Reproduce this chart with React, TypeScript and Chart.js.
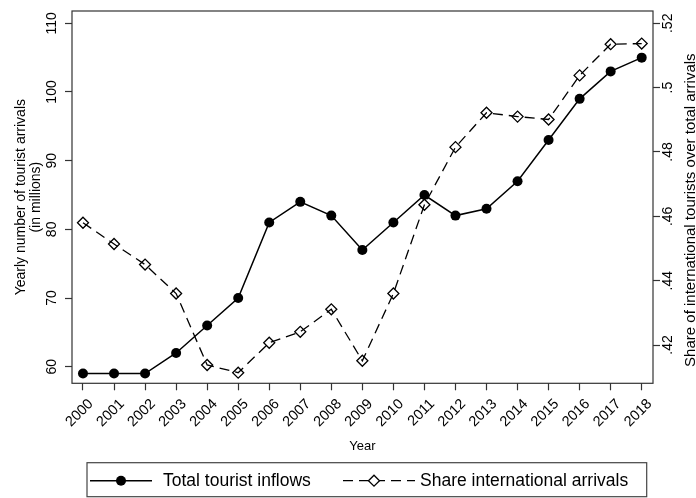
import React, { useEffect, useRef } from 'react';
import { Chart, registerables } from 'chart.js';

Chart.register(...registerables);

const years = [2000, 2001, 2002, 2003, 2004, 2005, 2006, 2007, 2008, 2009, 2010, 2011, 2012, 2013, 2014, 2015, 2016, 2017, 2018];
const totalInflows = [59, 59, 59, 62, 66, 70, 81, 84, 82, 77, 81, 85, 82, 83, 87, 93, 99, 103, 105];
const shareInternational = [0.458, 0.4514, 0.445, 0.436, 0.4138, 0.4114, 0.4207, 0.4241, 0.4311, 0.4151, 0.436, 0.4636, 0.4815, 0.4922, 0.491, 0.4901, 0.5038, 0.5135, 0.5137];
const leftTicks = [60, 70, 80, 90, 100, 110];
const rightTicks = [0.42, 0.44, 0.46, 0.48, 0.5, 0.52];
const rightTickLabels = ['.42', '.44', '.46', '.48', '.5', '.52'];
const seriesLabels = ['Total tourist inflows', 'Share international arrivals'];
const xTitle = 'Year';
const leftTitle = ['Yearly number of tourist arrivals', '(in millions)'];
const rightTitle = 'Share of international tourists over total arrivals';

const FONT = "'Liberation Sans', Arial, Helvetica, sans-serif";
const INK = '#000';
const FRAME = '#333';

const decorations = {
  id: 'decorations',
  afterDraw(chart: any) {
    const ctx = chart.ctx as CanvasRenderingContext2D;
    const a = chart.chartArea;
    ctx.save();
    // plot frame
    ctx.strokeStyle = FRAME;
    ctx.lineWidth = 1.2;
    ctx.setLineDash([]);
    ctx.strokeRect(a.left, a.top, a.right - a.left, a.bottom - a.top);

    // right axis title (reads bottom to top)
    ctx.save();
    ctx.translate(chart.width - 5.5, (a.top + a.bottom) / 2 + 13);
    ctx.rotate(-Math.PI / 2);
    ctx.font = `15px ${FONT}`;
    ctx.fillStyle = INK;
    ctx.textAlign = 'center';
    ctx.textBaseline = 'middle';
    ctx.fillText(rightTitle, 0, 0);
    ctx.restore();

    // legend box
    const box = { left: 87, top: 462.7, right: 646.7, bottom: 496.7 };
    ctx.strokeStyle = '#444';
    ctx.lineWidth = 1.2;
    ctx.strokeRect(box.left, box.top, box.right - box.left, box.bottom - box.top);
    const cy = (box.top + box.bottom) / 2 + 1;
    const d0 = chart.data.datasets[0];
    const d1 = chart.data.datasets[1];

    // item 1
    ctx.strokeStyle = d0.borderColor;
    ctx.lineWidth = d0.borderWidth;
    ctx.beginPath();
    ctx.moveTo(90, cy);
    ctx.lineTo(152, cy);
    ctx.stroke();
    ctx.fillStyle = d0.pointBackgroundColor;
    ctx.beginPath();
    ctx.arc(121, cy, d0.pointRadius, 0, Math.PI * 2);
    ctx.fill();

    // item 2
    ctx.strokeStyle = d1.borderColor;
    ctx.lineWidth = d1.borderWidth;
    ctx.setLineDash(d1.borderDash);
    ctx.beginPath();
    ctx.moveTo(343, cy);
    ctx.lineTo(415, cy);
    ctx.stroke();
    ctx.setLineDash([]);
    const r = d1.pointRadius;
    ctx.fillStyle = '#fff';
    ctx.beginPath();
    ctx.moveTo(374 - r, cy);
    ctx.lineTo(374, cy - r);
    ctx.lineTo(374 + r, cy);
    ctx.lineTo(374, cy + r);
    ctx.closePath();
    ctx.fill();
    ctx.lineWidth = d1.pointBorderWidth;
    ctx.stroke();

    ctx.fillStyle = INK;
    ctx.font = `17.5px ${FONT}`;
    ctx.textAlign = 'left';
    ctx.textBaseline = 'middle';
    ctx.fillText(seriesLabels[0], 163, cy);
    ctx.fillText(seriesLabels[1], 420, cy);
    ctx.restore();
  },
};

export default function App() {
  const ref = useRef<HTMLCanvasElement | null>(null);

  useEffect(() => {
    if (!ref.current) return;
    const tickGrid = {
      drawOnChartArea: false,
      drawTicks: true,
      tickLength: 7,
      tickColor: FRAME,
      tickWidth: 1.2,
    };
    const chart = new Chart(ref.current, {
      type: 'line',
      data: {
        datasets: [
          {
            label: seriesLabels[0],
            data: years.map((yr, i) => ({ x: yr, y: totalInflows[i] })),
            yAxisID: 'y',
            borderColor: INK,
            borderWidth: 1.5,
            pointRadius: 5,
            pointHoverRadius: 5,
            pointBackgroundColor: INK,
            pointBorderColor: INK,
            pointBorderWidth: 0,
            tension: 0,
          },
          {
            label: seriesLabels[1],
            data: years.map((yr, i) => ({ x: yr, y: shareInternational[i] })),
            yAxisID: 'y1',
            borderColor: INK,
            borderWidth: 1.3,
            borderDash: [10, 6],
            pointStyle: 'rectRot',
            pointRadius: 5.5,
            pointHoverRadius: 5.5,
            pointBackgroundColor: 'rgba(0,0,0,0)',
            pointBorderColor: INK,
            pointBorderWidth: 1.3,
            tension: 0,
          },
        ],
      },
      options: {
        animation: false,
        responsive: false,
        devicePixelRatio: 1,
        layout: { padding: { left: 0, right: 0, top: 11, bottom: 44.7 } },
        plugins: {
          legend: { display: false },
          tooltip: { enabled: false },
        },
        scales: {
          x: {
            type: 'linear',
            position: 'bottom',
            min: 1999.646,
            max: 2018.364,
            afterBuildTicks: (axis: any) => {
              axis.ticks = years.map((v) => ({ value: v }));
            },
            afterFit: (axis: any) => {
              axis.height = 70;
            },
            ticks: {
              autoSkip: false,
              minRotation: 45,
              maxRotation: 45,
              padding: 5.2,
              labelOffset: 8,
              color: INK,
              font: { family: FONT, size: 14.5 },
              callback: (v: any) => String(v),
            },
            grid: tickGrid,
            border: { display: false },
            title: {
              display: true,
              text: xTitle,
              color: INK,
              font: { family: FONT, size: 13 },
              padding: { top: 0, bottom: -1 },
            },
          },
          y: {
            type: 'linear',
            position: 'left',
            min: 57.583,
            max: 111.791,
            afterBuildTicks: (axis: any) => {
              axis.ticks = leftTicks.map((v) => ({ value: v }));
            },
            afterFit: (axis: any) => {
              axis.width = 72;
            },
            ticks: {
              autoSkip: false,
              minRotation: 90,
              maxRotation: 90,
              crossAlign: 'center',
              padding: 1,
              color: INK,
              font: { family: FONT, size: 14 },
              callback: (v: any) => String(v),
            },
            grid: tickGrid,
            border: { display: false },
            title: {
              display: true,
              text: leftTitle,
              color: INK,
              font: { family: FONT, size: 14, lineHeight: 1.05 },
              padding: { top: 14, bottom: 0 },
            },
          },
          y1: {
            type: 'linear',
            position: 'right',
            min: 0.4081,
            max: 0.52382,
            afterBuildTicks: (axis: any) => {
              axis.ticks = rightTicks.map((v) => ({ value: v }));
            },
            afterFit: (axis: any) => {
              axis.width = 43;
            },
            ticks: {
              autoSkip: false,
              minRotation: 90,
              maxRotation: 90,
              crossAlign: 'center',
              padding: -2,
              color: INK,
              font: { family: FONT, size: 14 },
              callback: (v: any) => {
                const i = rightTicks.findIndex((t) => Math.abs(t - v) < 1e-9);
                return i >= 0 ? rightTickLabels[i] : '';
              },
            },
            grid: tickGrid,
            border: { display: false },
          },
        },
      } as any,
      plugins: [decorations],
    });
    return () => chart.destroy();
  }, []);

  return (
    <div style={{ position: 'fixed', left: 0, top: 0, width: 696, height: 498, background: '#fff' }}>
      <canvas ref={ref} width={696} height={498} style={{ display: 'block', width: 696, height: 498 }} />
    </div>
  );
}
